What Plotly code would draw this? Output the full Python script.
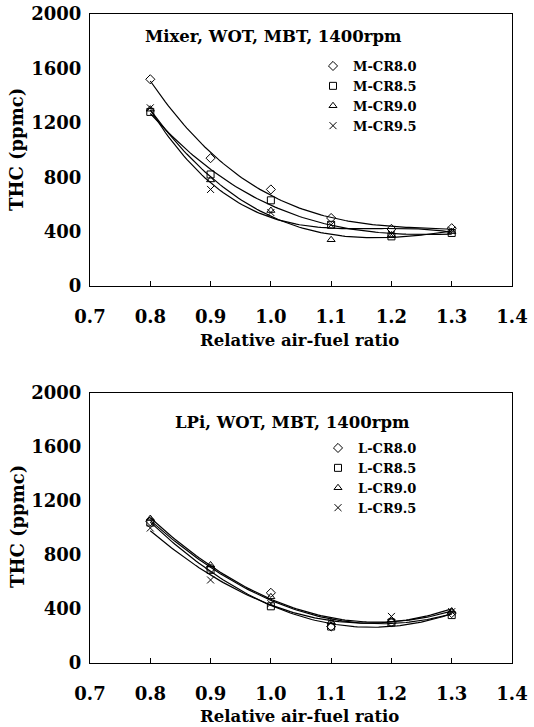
import numpy as np
import plotly.graph_objects as go

# ---------------- data ----------------
afr = [0.8, 0.9, 1.0, 1.1, 1.2, 1.3]

mixer_names = ["M-CR8.0", "M-CR8.5", "M-CR9.0", "M-CR9.5"]
m_cr80 = [1520, 940, 710, 500, 420, 425]
m_cr85 = [1280, 820, 630, 450, 365, 390]
m_cr90 = [1300, 780, 555, 340, 375, 400]
m_cr95 = [1310, 710, 540, 450, 380, 410]

lpi_names = ["L-CR8.0", "L-CR8.5", "L-CR9.0", "L-CR9.5"]
l_cr80 = [1050, 700, 520, 270, 300, 370]
l_cr85 = [1040, 690, 420, 270, 300, 355]
l_cr90 = [1070, 726, 490, 305, 318, 385]
l_cr95 = [1000, 615, 440, 300, 345, 380]

y_ticks = [0, 400, 800, 1200, 1600, 2000]
x_ticks = [0.7, 0.8, 0.9, 1.0, 1.1, 1.2, 1.3, 1.4]
x_ticklabels = ["0.7", "0.8", "0.9", "1.0", "1.1", "1.2", "1.3", "1.4"]

symbols = ["diamond-open", "square-open", "triangle-up-open", "x-thin-open"]

W, H = 534, 727
FONT = "DejaVu Serif"

fig = go.Figure()

def add_panel(names, series, xa, ya, legend, deg):
    xf = np.linspace(min(afr), max(afr), 100)
    for name, vals, sym in zip(names, series, symbols):
        c = np.polyfit(afr, vals, deg)
        fig.add_trace(go.Scatter(
            x=xf, y=np.polyval(c, xf), mode="lines",
            line=dict(color="black", width=1.2),
            showlegend=False, hoverinfo="skip", xaxis=xa, yaxis=ya))
    for name, vals, sym in zip(names, series, symbols):
        fig.add_trace(go.Scatter(
            x=afr, y=vals, mode="markers", name=name,
            marker=dict(symbol=sym, size=7, color="black",
                        line=dict(color="black", width=1)),
            xaxis=xa, yaxis=ya, legend=legend))

add_panel(mixer_names, [m_cr80, m_cr85, m_cr90, m_cr95], "x", "y", "legend", 3)
add_panel(lpi_names, [l_cr80, l_cr85, l_cr90, l_cr95], "x2", "y2", "legend2", 2)

xdom = [90 / W, 512 / W]
top_dom = [1 - 286 / H, 1 - 14 / H]
bot_dom = [1 - 663 / H, 1 - 393 / H]

axis_font = dict(family=FONT, size=18, color="black", weight="bold")

def xaxis_cfg(anchor):
    return dict(domain=xdom, range=[0.7, 1.4], tickvals=x_ticks, ticktext=x_ticklabels,
                ticks="inside", ticklen=5, tickcolor="black", showline=True,
                linecolor="black", linewidth=1, mirror=True, showgrid=False,
                zeroline=False, tickfont=axis_font, ticklabelstandoff=14,
                anchor=anchor, fixedrange=True, automargin=False)

def yaxis_cfg(dom, anchor):
    return dict(domain=dom, range=[0, 2000], tickvals=y_ticks, ticks="",
                showline=True, linecolor="black", linewidth=1, mirror=True,
                showgrid=False, zeroline=False, tickfont=axis_font,
                ticklabelstandoff=4, anchor=anchor, fixedrange=True, automargin=False)

legend_font = dict(family=FONT, size=13, color="black", weight="bold")

fig.update_layout(
    width=W, height=H,
    margin=dict(l=0, r=0, t=0, b=0, autoexpand=False),
    paper_bgcolor="white", plot_bgcolor="white",
    xaxis=xaxis_cfg("y"), yaxis=yaxis_cfg(top_dom, "x"),
    xaxis2=xaxis_cfg("y2"), yaxis2=yaxis_cfg(bot_dom, "x2"),
    legend=dict(x=313 / W, y=1 - 51 / H, xanchor="left", yanchor="top",
                font=legend_font, bgcolor="rgba(0,0,0,0)", tracegroupgap=0,
                itemwidth=30),
    legend2=dict(x=318 / W, y=1 - 433 / H, xanchor="left", yanchor="top",
                 font=legend_font, bgcolor="rgba(0,0,0,0)", tracegroupgap=0,
                 itemwidth=30),
    showlegend=True,
)

title_font = dict(family=FONT, size=16.5, color="black", weight="bold")
ylab_font = dict(family=FONT, size=18, color="black", weight="bold")
ann = [
    dict(text="Mixer, WOT, MBT, 1400rpm", x=273 / W, y=1 - 37 / H, font=title_font),
    dict(text="LPi, WOT, MBT, 1400rpm", x=292 / W, y=1 - 422 / H, font=title_font),
    dict(text="Relative air-fuel ratio", x=299 / W, y=1 - 340 / H, font=title_font),
    dict(text="Relative air-fuel ratio", x=299 / W, y=1 - 716 / H, font=title_font),
    dict(text="THC (ppmc)", x=17 / W, y=1 - 150 / H, textangle=-90, font=ylab_font),
    dict(text="THC (ppmc)", x=17 / W, y=1 - 527 / H, textangle=-90, font=ylab_font),
]
for a in ann:
    fig.add_annotation(xref="paper", yref="paper", xanchor="center",
                       yanchor="middle", showarrow=False, **a)

fig.write_html("out.html", config={"displayModeBar": False},
               post_script="document.body.style.margin='0';")
